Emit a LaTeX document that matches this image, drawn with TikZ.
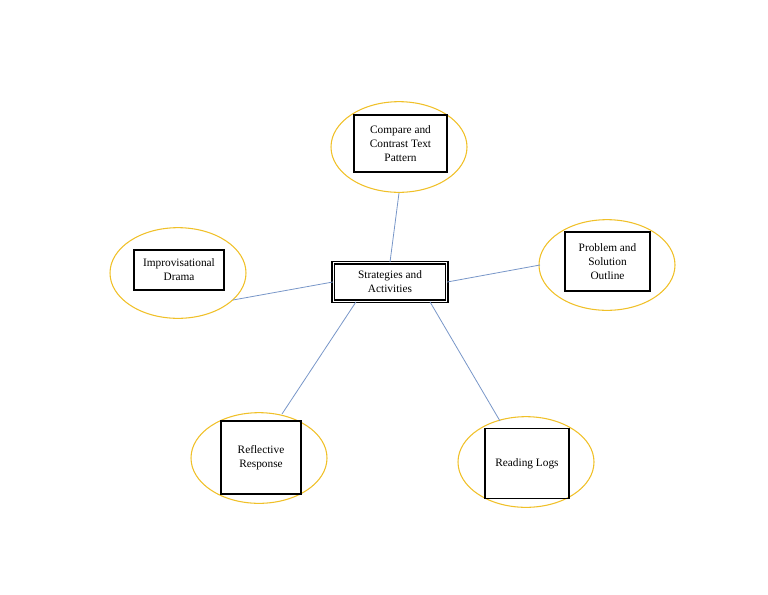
\documentclass[tikz,border=0pt]{standalone}
\usepackage{fontspec}
\setmainfont{Liberation Serif}
\usetikzlibrary{shapes.geometric}
\definecolor{ringcol}{RGB}{240,192,40}
\definecolor{linkcol}{RGB}{120,150,200}
\tikzset{
  ring/.style={draw=ringcol,thick,ellipse,minimum width=102pt,minimum height=68pt},
  itembox/.style={draw,thick,align=center,font=\fontsize{8.5}{10.5}\selectfont,inner sep=0pt},
  link/.style={draw=linkcol,semithick}
}
\begin{document}
\begin{tikzpicture}[x=0.75pt,y=-0.75pt]
    \useasboundingbox (0,0) rectangle (768,594);
    % rings
    \node[ring] (topR) at (399,147) {};
    \node[ring] (leftR) at (178,273) {};
    \node[ring] (rightR) at (607,265) {};
    \node[ring] (blR) at (259,458) {};
    \node[ring] (brR) at (526,462) {};
    % boxes
    \node[itembox,minimum width=69.75pt,minimum height=42.75pt] (topB) at (400.5,143.5) {Compare and\\Contrast Text\\Pattern};
    \node[itembox,minimum width=67.5pt,minimum height=30pt] (leftB) at (179,270) {Improvisational\\Drama};
    \node[itembox,minimum width=63.75pt,minimum height=44.25pt] (rightB) at (607.5,261.5) {Problem and\\Solution\\Outline};
    \node[itembox,minimum width=60pt,minimum height=54.75pt] (blB) at (261,457.5) {Reflective\\Response};
    \node[itembox,minimum width=63pt,minimum height=52.5pt] (brB) at (527,463.5) {Reading Logs};
    % centre
    \node[itembox,double,double distance=1.2pt,minimum width=85pt,minimum height=29pt] (mid) at (390,282) {Strategies and\\Activities};
    % link ends
    \coordinate (topE) at (399,193);
    \coordinate (leftE) at (233,300);
    \coordinate (rightE) at (540,265);
    \coordinate (blE) at (282,414);
    \coordinate (brE) at (500,421);
    \draw[link] (mid.north) -- (topE);
    \draw[link] (mid.west) -- (leftE);
    \draw[link] (mid.east) -- (rightE);
    \draw[link] (mid.south) ++(-34,0) coordinate (ma) (ma) -- (blE);
    \draw[link] (mid.south) ++(40,0) coordinate (mb) (mb) -- (brE);
\end{tikzpicture}
\end{document}
